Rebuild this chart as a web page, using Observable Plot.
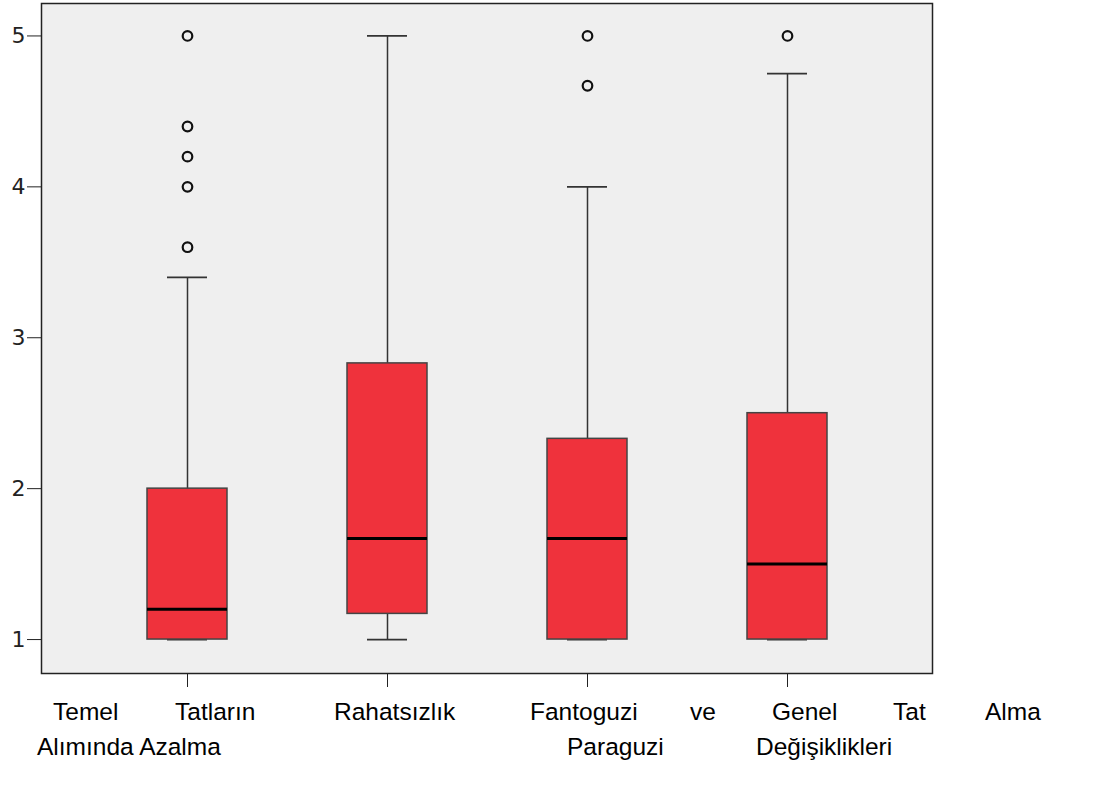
<!DOCTYPE html>
<html>
<head>
<meta charset="utf-8">
<script src="https://cdn.jsdelivr.net/npm/d3@7"></script>
<script src="https://cdn.jsdelivr.net/npm/@observablehq/plot@0.6"></script>
<style>
  html, body { margin: 0; padding: 0; background: #fff; }
  #chart svg { display: block; }
  #labels { position: relative; width: 1109px; height: 95px; font-family: "Liberation Sans", Arial, sans-serif; font-size: 24.5px; color: #000; }
  #labels span { position: absolute; line-height: 24px; white-space: nowrap; }
</style>
</head>
<body>
<div id="chart"></div>
<div id="labels"></div>
<script>
// ---- data ----
const categories = ["Temel Tatların Alımında Azalma", "Rahatsızlık", "Fantoguzi ve Paraguzi", "Genel Tat Alma Değişiklikleri"];
const whiskerLow  = [1, 1, 1, 1];
const q1          = [1, 1.17, 1, 1];
const median      = [1.2, 1.67, 1.67, 1.5];
const q3          = [2, 2.83, 2.33, 2.5];
const whiskerHigh = [3.4, 5, 4, 4.75];
const outlierCategory = [0, 0, 0, 0, 0, 2, 2, 3];
const outlierValue    = [5, 4.4, 4.2, 4.0, 3.6, 5, 4.67, 5];
const yTicks = [1, 2, 3, 4, 5];

// label lines as they are set under the chart (word, left, line)
const labelWords = [
  ["Temel", 53, 0], ["Tatların", 175, 0], ["Rahatsızlık", 334, 0], ["Fantoguzi", 530, 0],
  ["ve", 690, 0], ["Genel", 772, 0], ["Tat", 893, 0], ["Alma", 985, 0],
  ["Alımında Azalma", 37, 1], ["Paraguzi", 567, 1], ["Değişiklikleri", 756, 1]
];

const boxes = categories.map((c, i) => ({cat: c, lo: whiskerLow[i], q1: q1[i], med: median[i], q3: q3[i], hi: whiskerHigh[i]}));
const outliers = outlierValue.map((v, i) => ({cat: categories[outlierCategory[i]], v}));

const chart = Plot.plot({
  width: 1109,
  height: 690,
  marginLeft: 41,
  marginRight: 177,
  marginTop: 3,
  marginBottom: 17,
  style: {fontFamily: "'DejaVu Sans', sans-serif", fontSize: "22px", background: "#fff", color: "#222"},
  x: {type: "band", domain: categories, paddingInner: 0.6, paddingOuter: 0.525, label: null},
  y: {domain: [0.775, 5.215], label: null},
  marks: [
    Plot.frame({fill: "#efefef", stroke: null}),
    Plot.ruleX(boxes, {x: "cat", y1: "lo", y2: "hi", stroke: "#333", strokeWidth: 1.5}),
    Plot.tickY(boxes, {x: "cat", y: "hi", stroke: "#333", strokeWidth: 1.8, insetLeft: 20, insetRight: 20}),
    Plot.tickY(boxes, {x: "cat", y: "lo", stroke: "#333", strokeWidth: 1.8, insetLeft: 20, insetRight: 20}),
    Plot.barY(boxes, {x: "cat", y1: "q1", y2: "q3", fill: "#ef323c", stroke: "#444", strokeWidth: 1.5}),
    Plot.tickY(boxes, {x: "cat", y: "med", stroke: "#000", strokeWidth: 3}),
    Plot.dot(outliers, {x: "cat", y: "v", r: 4.8, stroke: "#111", strokeWidth: 2.2, fill: "none"}),
    Plot.axisY({ticks: yTicks, tickSize: 14, tickPadding: 2, fontSize: 22, tickFormat: d3.format("d"), stroke: "#222", fill: "#222"}),
    Plot.axisX({tickSize: 14, tickFormat: () => null, stroke: "#222"}),
    Plot.frame({stroke: "#222", strokeWidth: 1.5})
  ]
});
document.getElementById("chart").append(chart);

const lab = document.getElementById("labels");
labelWords.forEach(([w, x, line]) => {
  const s = document.createElement("span");
  s.textContent = w;
  s.style.left = x + "px";
  s.style.top = (10 + line * 35) + "px";
  lab.append(s);
});
</script>
</body>
</html>
